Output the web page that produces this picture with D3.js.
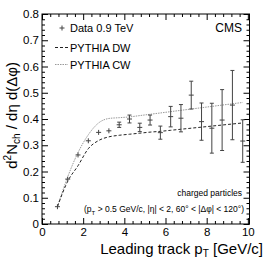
<!DOCTYPE html>
<html>
<head>
<meta charset="utf-8">
<script src="https://cdn.jsdelivr.net/npm/d3@7"></script>
<style>
    body { margin: 0; background: #fff; }
    svg { display: block; font-family: "Liberation Sans", Arial, sans-serif; }
    .axis path, .axis line { stroke: #000; }
    .axis text { font-size: 11.5px; fill: #000; }
</style>
</head>
<body>
<div id="chart"></div>
<script>
// leading track pT bin centres [GeV/c]
var ptBins = [0.75, 1.25, 1.75, 2.25, 2.75, 3.25, 3.75, 4.25, 4.75, 5.25,
    5.75, 6.25, 6.75, 7.25, 7.75, 8.25, 8.75, 9.25, 9.75];
var dataValues = [0.066, 0.171, 0.263, 0.317, 0.349, 0.355, 0.378, 0.400, 0.368, 0.396,
    0.348, 0.409, 0.403, 0.491, 0.390, 0.365, 0.396, 0.453, 0.316];
var dataErrors = [0.003, 0.004, 0.005, 0.005, 0.006, 0.007, 0.010, 0.015, 0.016, 0.019,
    0.025, 0.039, 0.052, 0.053, 0.071, 0.095, 0.116, 0.132, 0.081];
var pythiaDW = [0.066, 0.163, 0.222, 0.287, 0.318, 0.332, 0.338, 0.342, 0.346, 0.350,
    0.353, 0.357, 0.361, 0.365, 0.369, 0.373, 0.377, 0.381, 0.385];
var pythiaCW = [0.066, 0.180, 0.272, 0.340, 0.385, 0.402, 0.405, 0.408, 0.413, 0.418,
    0.423, 0.428, 0.433, 0.438, 0.443, 0.448, 0.453, 0.458, 0.463];
var xTicks = [0, 2, 4, 6, 8, 10];
var yTicks = [0, 0.1, 0.2, 0.3, 0.4, 0.5, 0.6, 0.7, 0.8];

var W = 269, H = 259;
var margin = { top: 14, bottom: 35, left: 42, right: 19.5 };

var svg = d3.select("#chart").append("svg")
    .attr("width", W)
    .attr("height", H);

var xScale = d3.scaleLinear().domain([0, 10.08]).range([margin.left, W - margin.right]);
var yScale = d3.scaleLinear().domain([0, 0.8]).range([H - margin.bottom, margin.top]);

var x0 = xScale.range()[0], x1 = xScale.range()[1];
var y0 = yScale.range()[0], y1 = yScale.range()[1];

var xMinor = d3.range(0, 10.01, 0.4).filter(function (v) { return Math.abs(v / 2 - Math.round(v / 2)) > 0.01; });
var yMinor = d3.range(0, 0.801, 0.02).filter(function (v) { return Math.abs(v * 10 - Math.round(v * 10)) > 0.01; });

function noLabel() { return ""; }

// ROOT style ticks: inside, on all four sides
svg.append("g").attr("class", "axis")
    .attr("transform", "translate(0," + y0 + ")")
    .call(d3.axisBottom(xScale).tickValues(xTicks).tickSize(-6).tickPadding(4).tickFormat(d3.format("d")))
    .call(function (g) { g.select(".domain").remove(); });
svg.append("g").attr("class", "axis")
    .attr("transform", "translate(0," + y0 + ")")
    .call(d3.axisBottom(xScale).tickValues(xMinor).tickSize(-3).tickFormat(noLabel))
    .call(function (g) { g.select(".domain").remove(); });
svg.append("g").attr("class", "axis")
    .attr("transform", "translate(0," + y1 + ")")
    .call(d3.axisTop(xScale).tickValues(xTicks).tickSize(-6).tickFormat(noLabel))
    .call(function (g) { g.select(".domain").remove(); });
svg.append("g").attr("class", "axis")
    .attr("transform", "translate(0," + y1 + ")")
    .call(d3.axisTop(xScale).tickValues(xMinor).tickSize(-3).tickFormat(noLabel))
    .call(function (g) { g.select(".domain").remove(); });

svg.append("g").attr("class", "axis")
    .attr("transform", "translate(" + x0 + ",0)")
    .call(d3.axisLeft(yScale).tickValues(yTicks).tickSize(-6).tickPadding(3)
        .tickFormat(function (d) { return d === 0 ? "0" : d3.format(".1f")(d); }))
    .call(function (g) { g.select(".domain").remove(); });
svg.append("g").attr("class", "axis")
    .attr("transform", "translate(" + x0 + ",0)")
    .call(d3.axisLeft(yScale).tickValues(yMinor).tickSize(-3).tickFormat(noLabel))
    .call(function (g) { g.select(".domain").remove(); });
svg.append("g").attr("class", "axis")
    .attr("transform", "translate(" + x1 + ",0)")
    .call(d3.axisRight(yScale).tickValues(yTicks).tickSize(-6).tickFormat(noLabel))
    .call(function (g) { g.select(".domain").remove(); });
svg.append("g").attr("class", "axis")
    .attr("transform", "translate(" + x1 + ",0)")
    .call(d3.axisRight(yScale).tickValues(yMinor).tickSize(-3).tickFormat(noLabel))
    .call(function (g) { g.select(".domain").remove(); });

// frame
svg.append("rect")
    .attr("x", x0).attr("y", y1)
    .attr("width", x1 - x0).attr("height", y0 - y1)
    .attr("fill", "none").attr("stroke", "#000").attr("stroke-width", 1);

// MC curves
var lineGen = function (vals) {
    return d3.line()
        .x(function (d, i) { return xScale(ptBins[i]); })
        .y(function (d) { return yScale(d); })
        .curve(d3.curveMonotoneX)(vals);
};

svg.append("path")
    .attr("d", lineGen(pythiaCW))
    .attr("fill", "none").attr("stroke", "#999").attr("stroke-width", 1)
    .attr("stroke-dasharray", "1.5,1");

svg.append("path")
    .attr("d", lineGen(pythiaDW))
    .attr("fill", "none").attr("stroke", "#222").attr("stroke-width", 1)
    .attr("stroke-dasharray", "3,2");

// data points with error bars
var pts = svg.append("g").attr("class", "points")
    .attr("stroke", "#444").attr("stroke-width", 1);

ptBins.forEach(function (pt, i) {
    var cx = xScale(pt);
    var cy = yScale(dataValues[i]);
    var top = yScale(dataValues[i] + dataErrors[i]);
    var bot = yScale(dataValues[i] - dataErrors[i]);
    var half = Math.max(2.5, (bot - top) / 2);
    pts.append("line").attr("x1", cx).attr("x2", cx).attr("y1", cy - half).attr("y2", cy + half);
    pts.append("line").attr("x1", cx - 2.5).attr("x2", cx + 2.5).attr("y1", cy).attr("y2", cy);
    if (bot - top > 5) {
        pts.append("line").attr("x1", cx - 2).attr("x2", cx + 2).attr("y1", top).attr("y2", top);
        pts.append("line").attr("x1", cx - 2).attr("x2", cx + 2).attr("y1", bot).attr("y2", bot);
    }
});

// legend
var leg = svg.append("g").attr("font-size", "11px");
leg.append("line").attr("x1", 62).attr("x2", 62).attr("y1", 25.5).attr("y2", 30.5).attr("stroke", "#444");
leg.append("line").attr("x1", 59.5).attr("x2", 64.5).attr("y1", 28).attr("y2", 28).attr("stroke", "#444");
leg.append("text").attr("x", 70).attr("y", 32).text("Data 0.9 TeV");
leg.append("line").attr("x1", 55).attr("x2", 68).attr("y1", 47.5).attr("y2", 47.5)
    .attr("stroke", "#222").attr("stroke-dasharray", "3,2");
leg.append("text").attr("x", 70).attr("y", 51.5).text("PYTHIA DW");
leg.append("line").attr("x1", 55).attr("x2", 68).attr("y1", 64.5).attr("y2", 64.5)
    .attr("stroke", "#999").attr("stroke-dasharray", "1.5,1");
leg.append("text").attr("x", 70).attr("y", 68.5).text("PYTHIA CW");

svg.append("text")
    .attr("x", 242).attr("y", 32)
    .attr("text-anchor", "end").attr("font-size", "12px")
    .text("CMS");

svg.append("text")
    .attr("x", 242).attr("y", 196)
    .attr("text-anchor", "end").attr("font-size", "8.5px")
    .text("charged particles");

var cuts = svg.append("text")
    .attr("x", 244).attr("y", 212)
    .attr("text-anchor", "end").attr("font-size", "8.5px");
cuts.append("tspan").text("(p");
cuts.append("tspan").attr("font-size", "6px").attr("dy", 2.5).text("T");
cuts.append("tspan").attr("dy", -2.5).text(" > 0.5 GeV/c, |\u03b7| < 2, 60\u00b0 < |\u0394\u03c6| < 120\u00b0)");

// axis titles
var xt = svg.append("text")
    .attr("x", 263).attr("y", 254)
    .attr("text-anchor", "end").attr("font-size", "15px");
xt.append("tspan").text("Leading track p");
xt.append("tspan").attr("font-size", "10px").attr("dy", 3).text("T");
xt.append("tspan").attr("dy", -3).text(" [GeV/c]");

var yt = svg.append("text")
    .attr("transform", "translate(17,62) rotate(-90)")
    .attr("text-anchor", "end").attr("font-size", "15px");
yt.append("tspan").text("d");
yt.append("tspan").attr("font-size", "10px").attr("dy", -6).text("2");
yt.append("tspan").attr("dy", 6).text("N");
yt.append("tspan").attr("font-size", "10px").attr("dy", 3).text("ch");
yt.append("tspan").attr("dy", -3).text(" / d\u03b7 d(\u0394\u03c6)");
</script>
</body>
</html>
